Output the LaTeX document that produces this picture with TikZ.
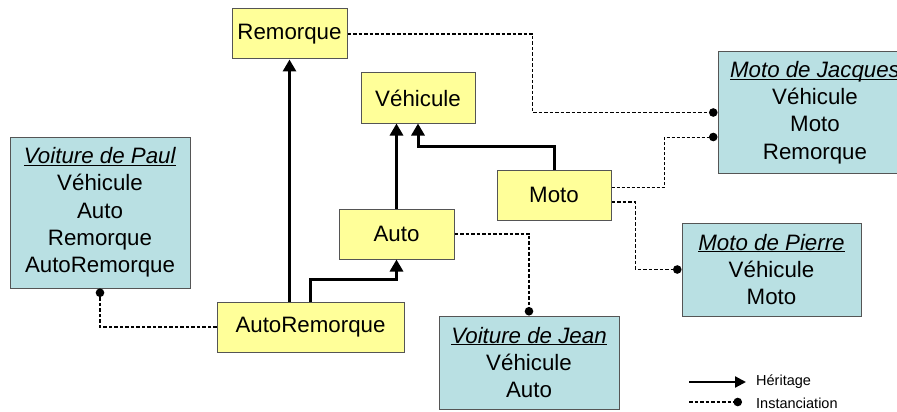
\documentclass[tikz,border=0pt]{standalone}
\usepackage{fontspec}
\setmainfont{Liberation Sans}
\usetikzlibrary{arrows.meta}
\newcommand\myul[1]{\underline{\smash{#1}}\vphantom{#1}}
\definecolor{clsyellow}{RGB}{255,255,153}
\definecolor{insteal}{RGB}{185,224,227}
\definecolor{bordergray}{RGB}{85,85,85}
\tikzset{
  cls/.style={draw=bordergray, line width=1pt, fill=clsyellow, inner sep=0pt,
    font=\fontsize{22.3}{27}\selectfont},
  obj/.style={draw=bordergray, line width=1pt, fill=insteal, inner sep=0pt, align=center,
    font=\fontsize{22.3}{27.3}\selectfont},
  inh/.style={line width=3pt, -{Triangle[width=13pt,length=12pt]}},
  inst/.style={line width=1.6pt, dash pattern=on 3.5pt off 2pt, -{Circle[length=8.5pt]}},
  instthin/.style={line width=1pt, dash pattern=on 3pt off 2pt, -{Circle[length=8.5pt]}},
  legtext/.style={font=\fontsize{14.5}{17}\selectfont, inner sep=0pt, anchor=west}
}
\begin{document}
\begin{tikzpicture}[x=1pt,y=-1pt]
\useasboundingbox[fill=white] (0,0) rectangle (897,412);
% classes
\node[cls, minimum width=115pt, minimum height=50pt] (rem) at (289.5,34) {Remorque};
\node[cls, minimum width=114pt, minimum height=50pt] (veh) at (418,98) {Véhicule};
\node[cls, minimum width=114pt, minimum height=50pt] (moto) at (554,195) {Moto};
\node[cls, minimum width=115pt, minimum height=50pt] (auto) at (396.5,234) {Auto};
\node[cls, minimum width=187pt, minimum height=50pt] (ar) at (310.5,327) {AutoRemorque};
% instances
\node[obj, minimum width=180pt, minimum height=151pt] (paul) at (100,212.5)
  {\myul{\textit{Voiture de Paul}}\\Véhicule\\Auto\\Remorque\\AutoRemorque};
\node[obj, minimum width=180pt, minimum height=93pt] (jean) at (529,362.5)
  {\myul{\textit{Voiture de Jean}}\\Véhicule\\Auto};
\node[obj, minimum width=179pt, minimum height=93pt] (pierre) at (771.5,269.5)
  {\myul{\textit{Moto de Pierre}}\\Véhicule\\Moto};
\node[obj, minimum width=194pt, minimum height=121pt] (jac) at (815,112.5)
  {\myul{\textit{Moto de Jacques}}\\Véhicule\\Moto\\Remorque};
% inheritance
\draw[inh] (rem.south |- ar.north) -- (rem.south);
\draw[inh] (ar.north) -- ++(0,-22) -| (auto.south);
\draw[inh] (auto.north) -- (auto.north |- veh.south);
\draw[inh] (moto.north) -- ++(0,-23) -| (veh.south);
% instanciation
\draw[inst] (rem.east) -- ++(185,0) |- (jac.west);
\draw[instthin] (moto.east |- 0,187) -- ++(53,0) |- (jac.west |- 0,137);
\draw[inst] (moto.east |- 0,202) -- ++(24,0) |- (pierre.west);
\draw[inst] (auto.east) -- ++(75,0) -| (jean.north);
\draw[inst] (ar.west) -| (paul.south);
% legend
\coordinate (l1a) at (689,382);
\coordinate (l1b) at (746,382);
\coordinate (l2a) at (689,402);
\coordinate (l2b) at (742,402);
\draw[inh, line width=2.2pt, -{Triangle[width=11pt,length=11pt]}] (l1a) -- (l1b);
\draw[inst, line width=1.3pt] (l2a) -- (l2b);
\node[legtext] (lh) at (756,382) {Héritage};
\node[legtext] (li) at (756,403) {Instanciation};
\end{tikzpicture}
\end{document}
